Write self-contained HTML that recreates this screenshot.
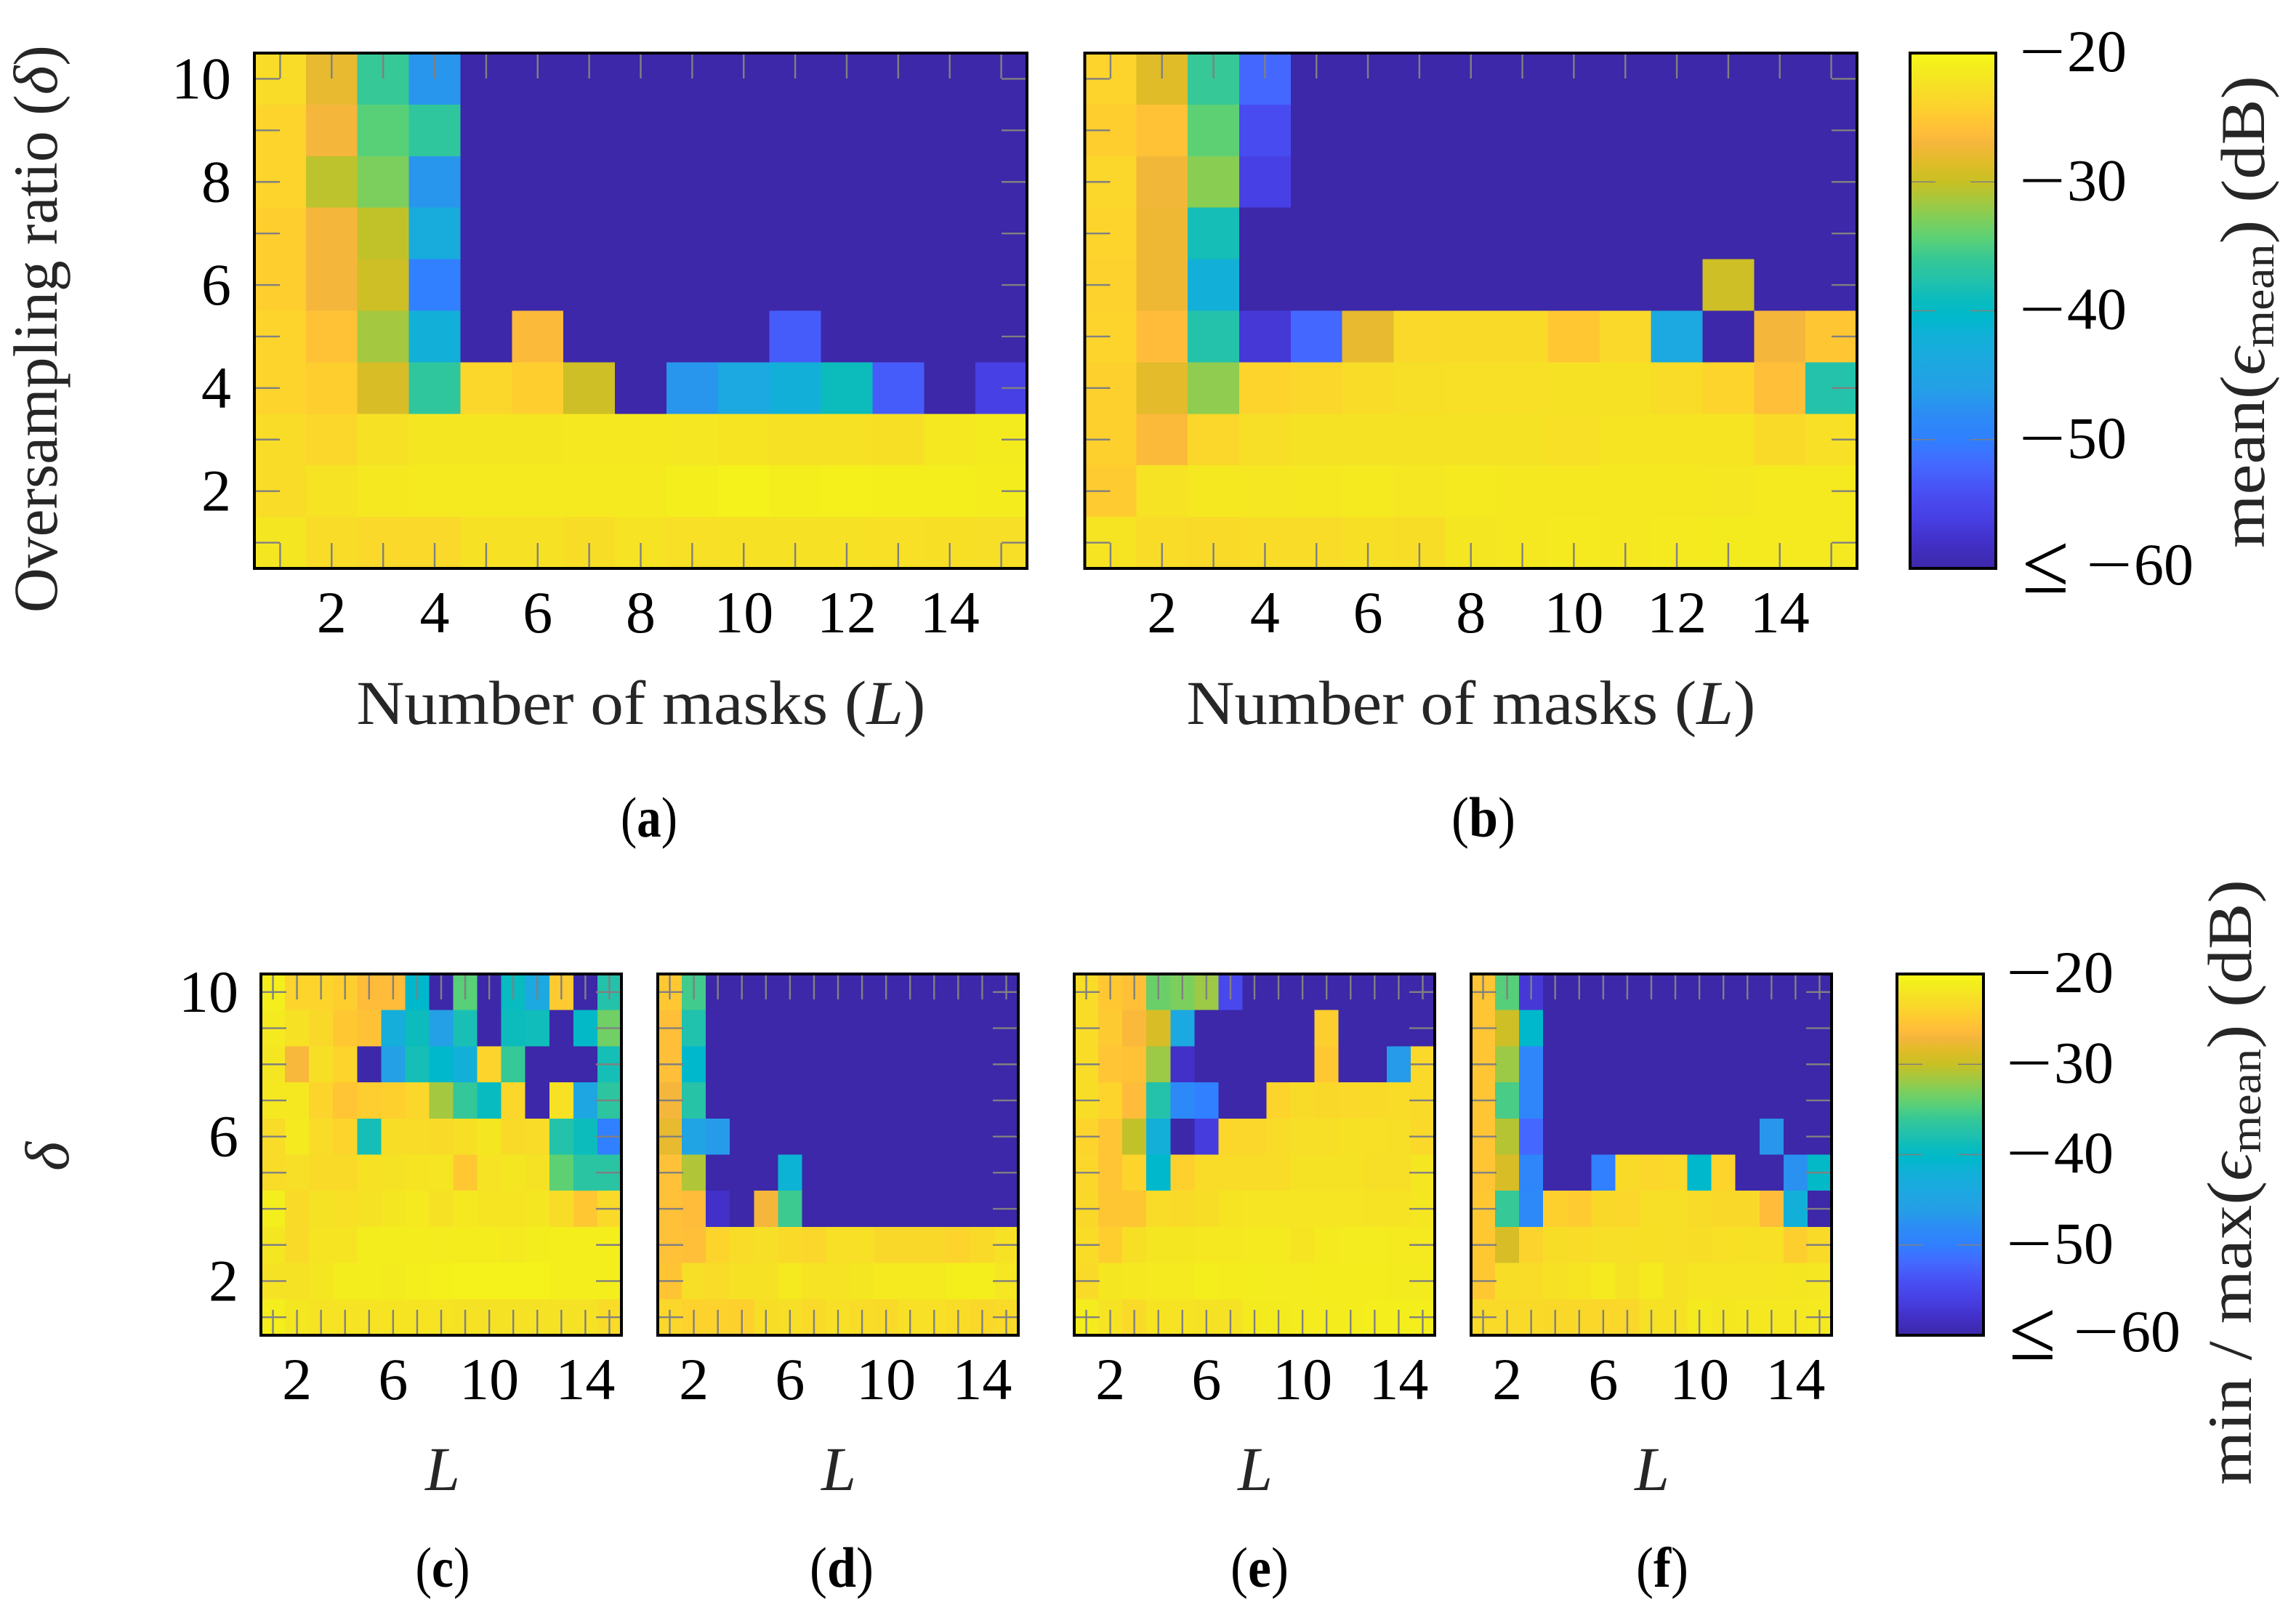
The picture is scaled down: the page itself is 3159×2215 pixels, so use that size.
<!DOCTYPE html>
<html lang="en">
<head>
<meta charset="utf-8">
<title>Reconstruction error heatmaps</title>
<style>
html,body{margin:0;padding:0;background:#fff;}
svg{display:block;}
text{font-family:"Liberation Serif",serif;}
.tick-label{font-size:82px;fill:#000;}
.axis-title{font-size:86px;fill:#262626;}
.caption{font-size:78px;fill:#000;}
</style>
</head>
<body>
<svg id="chart" xmlns="http://www.w3.org/2000/svg" width="3159" height="2215" viewBox="0 0 3159 2215">
  <defs id="defs"></defs>
  <g id="plots"></g>

  <text class="axis-title fit" data-width="781" transform="translate(78,843) rotate(-90)">Oversampling ratio (<tspan font-style="italic">δ</tspan>)</text>
  <text class="axis-title" text-anchor="middle" font-style="italic" transform="translate(94,1591) rotate(-90)">δ</text>

  <text class="axis-title fit" data-width="783" transform="translate(882,996)" text-anchor="middle">Number of masks (<tspan font-style="italic">L</tspan>)</text>
  <text class="axis-title fit" data-width="783" transform="translate(2024,996)" text-anchor="middle">Number of masks (<tspan font-style="italic">L</tspan>)</text>
  <text class="axis-title" x="609" y="2050" text-anchor="middle" font-style="italic">L</text>
  <text class="axis-title" x="1154" y="2050" text-anchor="middle" font-style="italic">L</text>
  <text class="axis-title" x="1727" y="2050" text-anchor="middle" font-style="italic">L</text>
  <text class="axis-title" x="2273" y="2050" text-anchor="middle" font-style="italic">L</text>

  <text class="caption fit" data-width="78" transform="translate(893,1151)" text-anchor="middle">(<tspan font-weight="bold">a</tspan>)</text>
  <text class="caption fit" data-width="88" transform="translate(2041,1151)" text-anchor="middle">(<tspan font-weight="bold">b</tspan>)</text>
  <text class="caption fit" data-width="75" transform="translate(609,2183)" text-anchor="middle">(<tspan font-weight="bold">c</tspan>)</text>
  <text class="caption fit" data-width="88" transform="translate(1158,2183)" text-anchor="middle">(<tspan font-weight="bold">d</tspan>)</text>
  <text class="caption fit" data-width="80" transform="translate(1733,2183)" text-anchor="middle">(<tspan font-weight="bold">e</tspan>)</text>
  <text class="caption fit" data-width="72" transform="translate(2287,2183)" text-anchor="middle">(<tspan font-weight="bold">f</tspan>)</text>

  <text class="axis-title fit" data-width="650" transform="translate(3115,754) rotate(-90)">mean<tspan font-size="90" dy="2">(</tspan><tspan font-style="italic" dy="-2">ϵ</tspan><tspan font-size="60" dy="13">mean</tspan><tspan font-size="90" dy="-11">)</tspan><tspan dy="-2"> </tspan><tspan font-size="88" dy="2">(</tspan><tspan dy="-2">dB</tspan><tspan font-size="88" dy="2">)</tspan></text>
  <text class="axis-title fit" data-width="833" transform="translate(3097,2043) rotate(-90)">min / max<tspan font-size="90" dy="2">(</tspan><tspan font-style="italic" dy="-2">ϵ</tspan><tspan font-size="60" dy="13">mean</tspan><tspan font-size="90" dy="-11">)</tspan><tspan dy="-2"> </tspan><tspan font-size="88" dy="2">(</tspan><tspan dy="-2">dB</tspan><tspan font-size="88" dy="2">)</tspan></text>
</svg>
<script>
// Values in dB, rows from delta = 10 (top) down to delta = 1, columns L = 1..15.
const maskCounts = [1,2,3,4,5,6,7,8,9,10,11,12,13,14,15];
const oversamplingRatios = [10,9,8,7,6,5,4,3,2,1];

const valuesA = [
[-23,-28,-36,-47,-60,-60,-60,-60,-60,-60,-60,-60,-60,-60,-60],
[-24,-27,-34.5,-36.5,-60,-60,-60,-60,-60,-60,-60,-60,-60,-60,-60],
[-24,-30.5,-33,-47,-60,-60,-60,-60,-60,-60,-60,-60,-60,-60,-60],
[-24.5,-27,-30.3,-43,-60,-60,-60,-60,-60,-60,-60,-60,-60,-60,-60],
[-24.5,-27,-29.7,-50,-60,-60,-60,-60,-60,-60,-60,-60,-60,-60,-60],
[-24,-25.7,-31.5,-42,-60,-26.5,-60,-60,-60,-60,-53,-60,-60,-60,-60],
[-24,-24.5,-29,-36.5,-23.7,-24.5,-29.7,-60,-47,-44,-42,-39,-53,-60,-56],
[-23,-23.7,-22.5,-22,-22,-22,-21.8,-21.8,-21.9,-22.2,-22.5,-22.5,-22.7,-21.7,-21.4],
[-23,-22.3,-21.7,-21.5,-21.5,-21.5,-21.5,-21.5,-21,-20.7,-20.9,-20.8,-21,-21,-21.2],
[-22,-23,-23.4,-23.4,-22.5,-22.5,-22.9,-22.3,-22.6,-22.5,-22.5,-22.5,-22.6,-22.7,-22.8]
];
const valuesB = [
[-24,-28.5,-36,-52,-60,-60,-60,-60,-60,-60,-60,-60,-60,-60,-60],
[-24.5,-25.7,-34.3,-54.5,-60,-60,-60,-60,-60,-60,-60,-60,-60,-60,-60],
[-23.8,-27.3,-32.5,-56,-60,-60,-60,-60,-60,-60,-60,-60,-60,-60,-60],
[-24,-27.5,-38.5,-60,-60,-60,-60,-60,-60,-60,-60,-60,-60,-60,-60],
[-24.2,-27.5,-42,-60,-60,-60,-60,-60,-60,-60,-60,-60,-29.7,-60,-60],
[-24,-26.3,-37.5,-57,-52,-28,-23.4,-23.2,-23.2,-25,-23.4,-44,-60,-27,-25.2],
[-24.3,-28.3,-32.3,-24,-23.8,-23,-22.8,-22.6,-22.6,-22.5,-22.5,-23,-24,-26,-37.5],
[-24.3,-26.5,-23.6,-22.8,-22.4,-22.4,-22.4,-22.4,-22.4,-22.6,-22.2,-22.2,-22.2,-23.2,-22.6],
[-24.7,-22.3,-21.8,-21.9,-21.8,-21.5,-21.9,-21.5,-21.8,-21.8,-21.8,-21.8,-21.9,-21.6,-21.6],
[-22.2,-23,-23.3,-23,-23,-22.7,-22.9,-22,-21.7,-21.5,-21.8,-21.5,-21.4,-21.5,-21.5]
];
const valuesC = [
[-21,-24,-24,-24.5,-26.3,-26.3,-40.5,-60,-34.5,-60,-39.5,-44,-24.8,-60,-37.5],
[-21.5,-22.5,-23.5,-25,-25.6,-42.5,-39,-46,-38.3,-60,-39,-38.8,-60,-40,-33.5],
[-22,-26.8,-22.7,-24,-60,-46,-38.5,-40.5,-42,-24,-36,-60,-60,-60,-38.5],
[-21.7,-21.7,-24,-25.3,-24.6,-24.3,-23.8,-31.5,-36.2,-39.5,-23.6,-60,-22.5,-44.5,-36.8],
[-23,-21.5,-23,-24,-38.5,-22.9,-23,-23.3,-22.7,-22,-23.3,-23,-37.6,-39,-50],
[-23,-22.8,-23.3,-23.2,-22.5,-22.4,-22.2,-22.1,-25,-22.3,-22,-22.4,-34.3,-37,-37],
[-20.9,-23.3,-22.4,-22.6,-22.4,-22,-21.6,-22.5,-21.7,-22.2,-22.2,-22,-23,-25,-23.3],
[-22,-23.2,-22.2,-22.2,-21.1,-21.1,-21.2,-21.3,-21.2,-21.2,-21.5,-21.1,-21,-21,-21],
[-22.4,-22.4,-22,-21.1,-21.1,-21.4,-20.9,-20.8,-20.7,-20.7,-20.7,-20.7,-21,-20.9,-20.9],
[-21,-22,-22.3,-22.3,-22.3,-22.2,-22.2,-22.2,-22.4,-22.4,-22.4,-22.4,-22.4,-22.4,-23]
];
const valuesD = [
[-25,-35.5,-60,-60,-60,-60,-60,-60,-60,-60,-60,-60,-60,-60,-60],
[-26,-37.8,-60,-60,-60,-60,-60,-60,-60,-60,-60,-60,-60,-60,-60],
[-26,-40.5,-60,-60,-60,-60,-60,-60,-60,-60,-60,-60,-60,-60,-60],
[-27,-37.3,-60,-60,-60,-60,-60,-60,-60,-60,-60,-60,-60,-60,-60],
[-28,-45,-46.5,-60,-60,-60,-60,-60,-60,-60,-60,-60,-60,-60,-60],
[-25.8,-31,-60,-60,-60,-41.5,-60,-60,-60,-60,-60,-60,-60,-60,-60],
[-25.8,-26.3,-58,-60,-27,-35.7,-60,-60,-60,-60,-60,-60,-60,-60,-60],
[-25.8,-26,-24,-23,-22.8,-23.2,-23.7,-22.6,-22.6,-23.5,-23.5,-23.5,-24,-23.2,-22.5],
[-25.4,-22.8,-23,-22.5,-22.5,-21.6,-22.3,-22.3,-22,-21.5,-21.5,-21.5,-21,-21,-21.9],
[-23.6,-24.2,-24.2,-24.3,-22.9,-22.8,-23.2,-22.6,-23,-23.2,-22.6,-22.6,-23,-23.5,-23.3]
];
const valuesE = [
[-23,-25,-25.9,-33.7,-33,-31.8,-55,-60,-60,-60,-60,-60,-60,-60,-60],
[-23,-24.8,-26.6,-29,-44,-60,-60,-60,-60,-60,-24.4,-60,-60,-60,-60],
[-23,-25.3,-25.6,-31.8,-58,-60,-60,-60,-60,-60,-25,-60,-60,-46.5,-23.4],
[-22.9,-24,-26.3,-37.5,-48.5,-50,-60,-60,-24,-23.1,-23.5,-23.4,-23.2,-23,-23.3],
[-24,-25.3,-30.3,-42.2,-60,-56.5,-23.7,-23.7,-23,-22.8,-22.8,-22.5,-22.6,-22.8,-23.4],
[-23.8,-25.3,-24,-40.5,-24.3,-23,-23,-23,-23,-22.4,-22.4,-22.4,-22.8,-22.8,-22],
[-23.5,-25.2,-25.2,-23,-23.2,-22.9,-22.2,-22.1,-22.1,-22.1,-22.1,-22.1,-22.3,-22.3,-22],
[-23,-24.5,-22.7,-22,-22,-21.7,-21.7,-21.6,-21.6,-22.2,-21.5,-21.3,-21.3,-21.6,-21.6],
[-23.3,-22,-21.7,-21.5,-21.5,-21,-21.2,-21.1,-21.3,-21.3,-21.2,-21.2,-21.2,-21.4,-21.4],
[-21.3,-22.3,-23.3,-22.2,-22.3,-22.4,-22.4,-21.4,-21.4,-21.3,-21.3,-21.2,-21,-21,-21]
];
const valuesF = [
[-25.3,-34.6,-57,-60,-60,-60,-60,-60,-60,-60,-60,-60,-60,-60,-60],
[-25.3,-29.7,-40.5,-60,-60,-60,-60,-60,-60,-60,-60,-60,-60,-60,-60],
[-25.3,-31.8,-49,-60,-60,-60,-60,-60,-60,-60,-60,-60,-60,-60,-60],
[-25.3,-35.2,-49,-60,-60,-60,-60,-60,-60,-60,-60,-60,-60,-60,-60],
[-25.3,-30.8,-52,-60,-60,-60,-60,-60,-60,-60,-60,-60,-47,-60,-60],
[-25.3,-29,-49,-60,-60,-50,-23.3,-23.7,-23.4,-40.5,-24,-60,-60,-47.5,-40],
[-25,-36,-48.5,-24.3,-24.7,-23.5,-23.6,-22.8,-22.8,-23.1,-23.5,-23.5,-26.3,-42,-60],
[-25,-29,-24.1,-22.9,-23,-22.8,-22.8,-22.7,-22.8,-22.9,-22.6,-22.5,-22.6,-24.4,-23.3],
[-25,-22.9,-23,-22.5,-22.2,-21.5,-22.4,-21.6,-22.5,-22.1,-22.1,-22.1,-22.1,-22,-21.9],
[-23.2,-23.3,-23.3,-23.5,-23.5,-23.6,-23.7,-22.5,-22.5,-21.6,-22,-21.8,-21.7,-21.7,-21.6]
];

// Tick labels
const largeXTicks = [2,4,6,8,10,12,14];
const largeYTicks = [2,4,6,8,10];
const smallXTicks = [2,6,10,14];
const smallYTicks = [2,6,10];
const colorbarTicks = [-20,-30,-40,-50];
const colorbarMin = -60;
const colorbarMax = -20;

// Colormap: dB anchors and their colours
const cmapDb = [-60,-58,-56,-54,-52,-50,-48,-46,-44,-42,-40.5,-39,-38,-36,-34.5,-33,-31.5,-30,-28.5,-27,-26.3,-25,-24,-23,-22,-21,-20];
const cmapColors = ['#3c28a8','#4230c8','#4740e4','#4850f4','#4468ff','#3080ff','#2c8cf4','#24a0e6','#1ca8e0','#12b0d8','#00b8cc','#0cbcbc','#1ec0b0','#36c896','#58d078','#7ccf5c','#a4c840','#c8c024','#e0bc28','#f5b63c','#ffbc3a','#ffc832','#fcd42c','#f8dc28','#f5e622','#f4ee1c','#f8fa18'];

const SVGNS = 'http://www.w3.org/2000/svg';
const plots = document.getElementById('plots');
const defs = document.getElementById('defs');

function hexToRgb(h){return [parseInt(h.slice(1,3),16),parseInt(h.slice(3,5),16),parseInt(h.slice(5,7),16)];}
function colorFor(v){
  const d = Math.max(colorbarMin, Math.min(colorbarMax, v));
  for(let i=1;i<cmapDb.length;i++){
    if(d<=cmapDb[i]){
      const t=(d-cmapDb[i-1])/(cmapDb[i]-cmapDb[i-1]);
      const a=hexToRgb(cmapColors[i-1]), b=hexToRgb(cmapColors[i]);
      return 'rgb('+a.map((c,k)=>Math.round(c+(b[k]-c)*t)).join(',')+')';
    }
  }
  return cmapColors[cmapColors.length-1];
}
function make(tag, parent){
  const e=document.createElementNS(SVGNS,tag);
  parent.appendChild(e);
  return e;
}
function setAll(e,attrs){for(const k in attrs){e.setAttribute(k,attrs[k]);}}

function drawLine(parent,x1,y1,x2,y2,stroke,width){
  const l=make('line',parent);
  setAll(l,{x1:x1,y1:y1,x2:x2,y2:y2,stroke:stroke,'stroke-width':width});
  return l;
}

// A negative colorbar label: the minus is widened to the long rule used in the figure.
function drawNegativeLabel(parent,x,y,value){
  const g=make('g',parent);
  const minus=make('text',g);
  setAll(minus,{'class':'tick-label',transform:'translate('+(x-4)+','+y+') scale(1.38,1)'});
  minus.textContent='\u2212';
  
  
  const digits=make('text',g);
  setAll(digits,{'class':'tick-label',x:x+62,y:y});
  digits.textContent=String(Math.abs(value));
  
  
  return g;
}

function drawHeatmap(cfg){
  const g=make('g',plots);
  
  
  const cw=(cfg.x1-cfg.x0)/maskCounts.length;
  const ch=(cfg.y1-cfg.y0)/oversamplingRatios.length;
  const xs=v=>cfg.x0+(v-0.5)*cw;
  const ys=v=>cfg.y1-(v-0.5)*ch;
  oversamplingRatios.forEach((delta,r)=>{
    maskCounts.forEach((L,c)=>{
      const cell=make('rect',g);
      setAll(cell,{x:xs(L-0.5),y:ys(delta+0.5),width:cw,height:ch,fill:colorFor(cfg.values[r][c]),'shape-rendering':'crispEdges'});
      
      
    });
  });
  const tickLen=35;
  maskCounts.forEach(L=>{
    const top=drawLine(g,xs(L),cfg.y0,xs(L),cfg.y0+tickLen,'#808080',2.4);
    
    
    const bottom=drawLine(g,xs(L),cfg.y1,xs(L),cfg.y1-tickLen,'#808080',2.4);
    
    
  });
  oversamplingRatios.forEach(delta=>{
    const left=drawLine(g,cfg.x0,ys(delta),cfg.x0+tickLen,ys(delta),'#808080',2.4);
    
    
    const right=drawLine(g,cfg.x1,ys(delta),cfg.x1-tickLen,ys(delta),'#808080',2.4);
    
    
  });
  const frame=make('rect',g);
  setAll(frame,{x:cfg.x0,y:cfg.y0,width:cfg.x1-cfg.x0,height:cfg.y1-cfg.y0,fill:'none',stroke:'#000','stroke-width':4});
  
  
  cfg.xTicks.forEach(v=>{
    const t=make('text',g);
    setAll(t,{x:xs(v),y:cfg.xLabelY,'text-anchor':'middle','class':'tick-label'});
    t.textContent=String(v);
    
    
  });
  if(cfg.yLabelX){
    cfg.yTicks.forEach(v=>{
      const t=make('text',g);
      setAll(t,{x:cfg.yLabelX,y:ys(v)+27,'text-anchor':'end','class':'tick-label'});
      t.textContent=String(v);
      
      
    });
  }
}

function drawColorbar(cfg){
  const g=make('g',plots);
  
  
  const ys=v=>cfg.y1-(v-colorbarMin)/(colorbarMax-colorbarMin)*(cfg.y1-cfg.y0);
  const grad=make('linearGradient',defs);
  setAll(grad,{id:'grad-'+cfg.id,x1:0,y1:1,x2:0,y2:0});
  cmapDb.forEach((d,i)=>{
    const s=make('stop',grad);
    setAll(s,{offset:(d-colorbarMin)/(colorbarMax-colorbarMin),'stop-color':cmapColors[i]});
  });
  const bar=make('rect',g);
  setAll(bar,{x:cfg.x0,y:cfg.y0,width:cfg.x1-cfg.x0,height:cfg.y1-cfg.y0,fill:'url(#grad-'+cfg.id+')'});
  
  
  colorbarTicks.forEach(v=>{
    if(v!==colorbarMax){
      const a=drawLine(g,cfg.x0,ys(v),cfg.x0+35,ys(v),'#808080',1.6);
      
      
      const b=drawLine(g,cfg.x1,ys(v),cfg.x1-35,ys(v),'#808080',1.6);
      
      
    }
    const t=drawNegativeLabel(g,cfg.labelX,ys(v)+25,v);
    
    
  });
  const frame=make('rect',g);
  setAll(frame,{x:cfg.x0,y:cfg.y0,width:cfg.x1-cfg.x0,height:cfg.y1-cfg.y0,fill:'none',stroke:'#000','stroke-width':4});
  
  
  const le=make('text',g);
  setAll(le,{x:cfg.labelX,y:cfg.y1+33,'font-size':118,fill:'#000'});
  le.textContent='\u2264';
  
  
  const minLabel=drawNegativeLabel(g,cfg.labelX+92,cfg.y1+22,colorbarMin);
  
  
}

drawHeatmap({id:'a',values:valuesA,x0:350,x1:1413,y0:73,y1:782,xTicks:largeXTicks,yTicks:largeYTicks,xLabelY:870,yLabelX:318});
drawHeatmap({id:'b',values:valuesB,x0:1492.5,x1:2555,y0:73,y1:782,xTicks:largeXTicks,yTicks:largeYTicks,xLabelY:870,yLabelX:0});
drawHeatmap({id:'c',values:valuesC,x0:359,x1:855,y0:1340,y1:1837,xTicks:smallXTicks,yTicks:smallYTicks,xLabelY:1925,yLabelX:328});
drawHeatmap({id:'d',values:valuesD,x0:905,x1:1401,y0:1340,y1:1837,xTicks:smallXTicks,yTicks:smallYTicks,xLabelY:1925,yLabelX:0});
drawHeatmap({id:'e',values:valuesE,x0:1478,x1:1974,y0:1340,y1:1837,xTicks:smallXTicks,yTicks:smallYTicks,xLabelY:1925,yLabelX:0});
drawHeatmap({id:'f',values:valuesF,x0:2024,x1:2520,y0:1340,y1:1837,xTicks:smallXTicks,yTicks:smallYTicks,xLabelY:1925,yLabelX:0});
drawColorbar({id:'mean',x0:2628,x1:2746,y0:73,y1:782,labelX:2782});
drawColorbar({id:'min-max',x0:2610,x1:2729,y0:1340,y1:1837,labelX:2764});

// Stretch titles along their baseline to the reference widths, scaling every tspan alike.
document.querySelectorAll('text.fit').forEach(t=>{
  const target=parseFloat(t.getAttribute('data-width'));
  const natural=t.getComputedTextLength();
  t.setAttribute('transform',t.getAttribute('transform')+' scale('+(target/natural)+',1)');
});
</script>
</body>
</html>
